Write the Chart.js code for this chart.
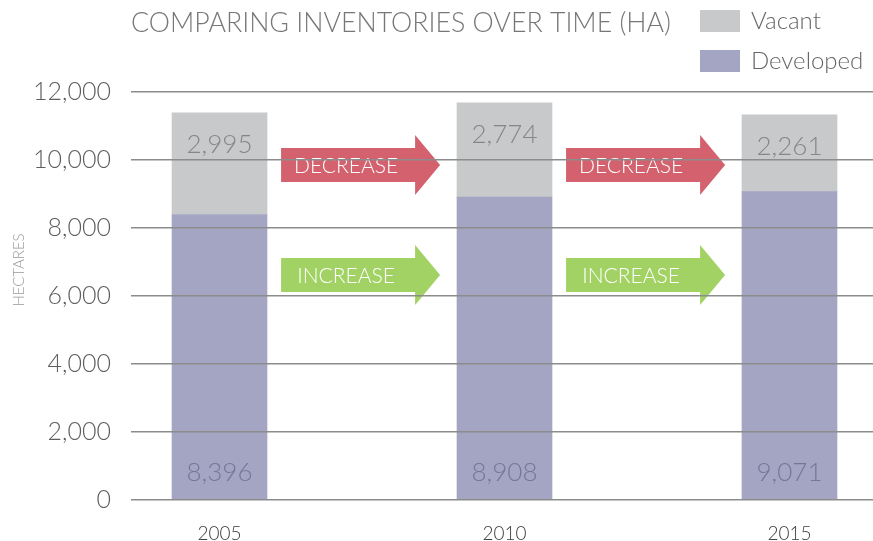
<!DOCTYPE html>
<html>
<head>
<meta charset="utf-8">
<script src="https://cdn.jsdelivr.net/npm/chart.js@4.4.1/dist/chart.umd.min.js"></script>
<style>
  html, body { margin: 0; padding: 0; background: #fff; }
  #wrap { width: 873px; height: 541px; position: relative; }
</style>
</head>
<body>
<div id="wrap"><canvas id="chart"></canvas></div>
<script>
// data
const years = [2005, 2010, 2015];
const developed = [8396, 8908, 9071];
const vacant = [2995, 2774, 2261];
const yTicks = [0, 2000, 4000, 6000, 8000, 10000, 12000];
const chartTitle = 'COMPARING INVENTORIES OVER TIME (HA)';
const arrowLabels = ['DECREASE', 'INCREASE'];

const FONT = "Lato, 'Open Sans', sans-serif";
const fmt = v => v.toLocaleString('en-US');

// titre + legende dessines a la main
const headerPlugin = {
  id: 'header',
  afterDraw(chart) {
    const ctx = chart.ctx;
    ctx.save();
    ctx.textBaseline = 'middle';
    ctx.fillStyle = '#777';
    ctx.font = '300 27px ' + FONT;
    ctx.textAlign = 'left';
    ctx.fillText(chartTitle, 131, 23, 540);

    const items = [chart.data.datasets[1], chart.data.datasets[0]];
    items.forEach((ds, i) => {
      const y = 21 + i * 40;
      ctx.fillStyle = ds.backgroundColor;
      ctx.fillRect(700, y - 11, 40, 22);
      ctx.fillStyle = '#666';
      ctx.font = '300 24px ' + FONT;
      ctx.fillText(ds.label, 751, y);
    });

    // titre de l'axe Y
    ctx.translate(19, 270);
    ctx.rotate(-Math.PI / 2);
    ctx.textAlign = 'center';
    ctx.fillStyle = '#999';
    ctx.font = '300 15px ' + FONT;
    ctx.fillText('HECTARES', 0, 0);
    ctx.restore();
  }
};

// valeurs dans les barres
const valuesPlugin = {
  id: 'values',
  afterDatasetsDraw(chart) {
    const ctx = chart.ctx;
    ctx.save();
    ctx.textAlign = 'center';
    ctx.textBaseline = 'middle';
    ctx.font = '300 26px ' + FONT;
    chart.data.datasets.forEach((ds, di) => {
      chart.getDatasetMeta(di).data.forEach((bar, i) => {
        const v = ds.data[i].y;
        if (di === 0) {
          ctx.fillStyle = '#74779a';
          ctx.fillText(fmt(v), bar.x, bar.base - 27);
        } else {
          ctx.fillStyle = '#868686';
          ctx.fillText(fmt(v), bar.x, bar.y + 32);
        }
      });
    });
    ctx.restore();
  }
};

// fleches entre les annees
const arrowsPlugin = {
  id: 'arrows',
  afterDatasetsDraw(chart) {
    const ctx = chart.ctx;
    const xs = chart.scales.x, ys = chart.scales.y;
    const rows = [
      { label: arrowLabels[0], value: 9850, color: 'rgba(208, 86, 99, 0.93)' },
      { label: arrowLabels[1], value: 6620, color: 'rgba(158, 208, 92, 0.95)' }
    ];
    ctx.save();
    for (let k = 0; k < years.length - 1; k++) {
      const x0 = xs.getPixelForValue(years[k] + 1.08);
      const x1 = xs.getPixelForValue(years[k] + 3.87);
      rows.forEach(r => {
        const cy = ys.getPixelForValue(r.value);
        const hx = x1 - 25;
        ctx.fillStyle = r.color;
        ctx.beginPath();
        ctx.moveTo(x0, cy - 17);
        ctx.lineTo(hx, cy - 17);
        ctx.lineTo(hx, cy - 30);
        ctx.lineTo(x1, cy);
        ctx.lineTo(hx, cy + 30);
        ctx.lineTo(hx, cy + 17);
        ctx.lineTo(x0, cy + 17);
        ctx.closePath();
        ctx.fill();
        ctx.fillStyle = '#fff';
        ctx.font = '300 21px ' + FONT;
        ctx.textAlign = 'center';
        ctx.textBaseline = 'middle';
        ctx.fillText(r.label, (x0 + hx) / 2 - 2, cy + 1);
      });
    }
    ctx.restore();
  }
};

new Chart(document.getElementById('chart'), {
  type: 'bar',
  data: {
    datasets: [
      {
        label: 'Developed',
        data: years.map((y, i) => ({ x: y, y: developed[i] })),
        backgroundColor: '#a3a5c3',
        barThickness: 95
      },
      {
        label: 'Vacant',
        data: years.map((y, i) => ({ x: y, y: vacant[i] })),
        backgroundColor: '#c8c9cb',
        barThickness: 95
      }
    ]
  },
  options: {
    responsive: true,
    maintainAspectRatio: false,
    animation: false,
    layout: { padding: { top: 92, left: 0, right: 0, bottom: 0 } },
    plugins: {
      legend: { display: false },
      title: { display: false },
      tooltip: { enabled: false }
    },
    scales: {
      x: {
        type: 'linear',
        stacked: true,
        offset: false,
        bounds: 'data',
        min: 2003.447,
        max: 2016.465,
        afterBuildTicks: s => { s.ticks = years.map(v => ({ value: v })); },
        afterFit: s => { s.height = 41; },
        grid: { display: false, offset: false },
        border: { display: false },
        ticks: {
          padding: 14,
          color: '#404040',
          font: { family: FONT, size: 19, weight: '300' },
          callback: v => String(v)
        }
      },
      y: {
        stacked: true,
        min: 0,
        max: 12000,
        afterBuildTicks: s => { s.ticks = yTicks.map(v => ({ value: v })); },
        afterFit: s => { s.width = 131; },
        grid: { color: '#8c8c8c', lineWidth: 1.5, drawTicks: false, z: 1 },
        border: { display: false },
        ticks: {
          padding: 20,
          color: '#5e5e5e',
          font: { family: FONT, size: 25, weight: '300' },
          callback: v => fmt(v)
        }
      }
    }
  },
  plugins: [headerPlugin, valuesPlugin, arrowsPlugin]
});
</script>
</body>
</html>
